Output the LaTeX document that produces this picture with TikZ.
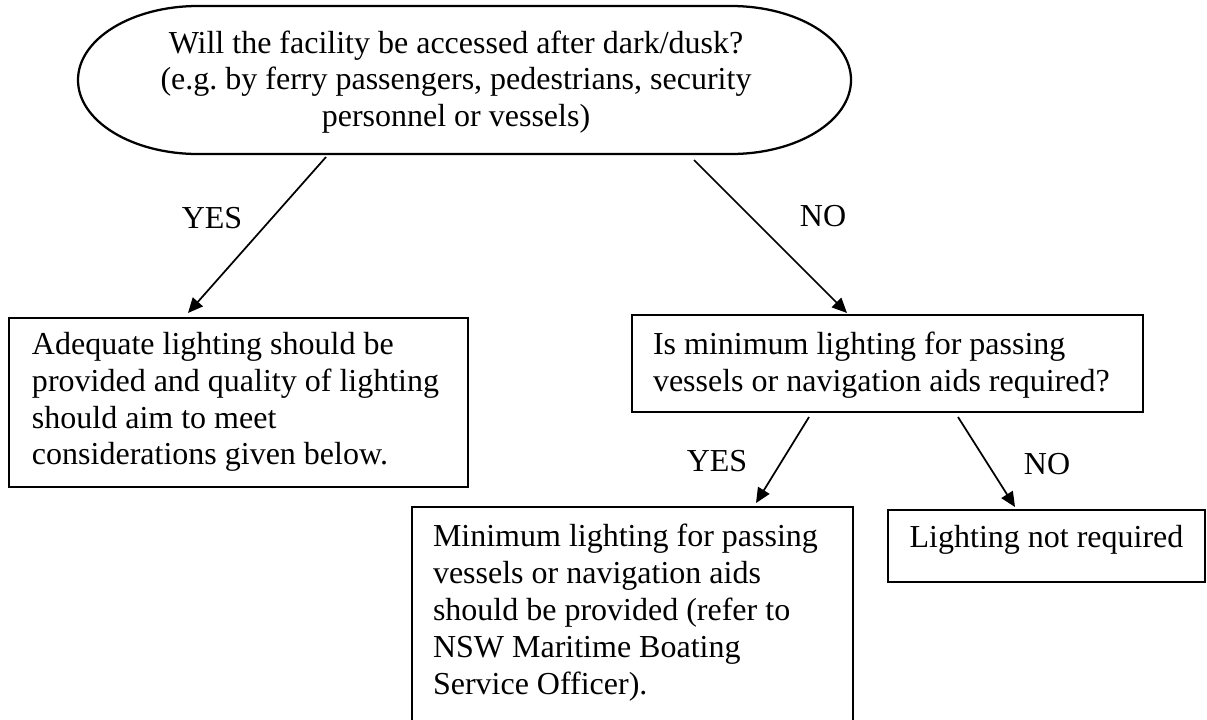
\documentclass[tikz,border=0pt]{standalone}
\usepackage{fontspec}
\setmainfont{Liberation Serif}
\usetikzlibrary{arrows.meta,calc}
\frenchspacing
% fixed-size text block: width, height, column spec, lines
\newcommand\boxtext[4]{\parbox[t][#2][t]{#1}{\begin{tabular}[t]{@{}#3@{}}#4\end{tabular}}}
\begin{document}
\begin{tikzpicture}[x=0.375pt, y=-0.375pt,
  every node/.style={font=\fontsize{12}{13.8}\selectfont, inner sep=0pt, outer sep=0pt},
  frame/.style={draw, line width=1pt, rectangle, anchor=north west},
  conn/.style={-{Triangle[length=5.6pt,width=5pt]}, line width=0.65pt},
  stadium/.style={line width=0.85pt, line join=round}]
\useasboundingbox (0,0) rectangle (1207,719);
\begin{scope}
\clip (0,0) rectangle (1207,719);

% start question: terminator outline and its text
\node[minimum width=289.875pt, minimum height=55.5pt] (q) at (464.5,80) {};
\draw[stadium] ($(q.north west)+(120,0)$) -- ($(q.north east)+(-120,0)$)
  .. controls ($(q.north east)+(-53.7,0)$) and ($(q.east)+(0,-40.9)$) .. (q.east)
  .. controls ($(q.east)+(0,40.9)$) and ($(q.south east)+(-53.7,0)$) .. ($(q.south east)+(-120,0)$)
  -- ($(q.south west)+(120,0)$)
  .. controls ($(q.south west)+(53.7,0)$) and ($(q.west)+(0,40.9)$) .. (q.west)
  .. controls ($(q.west)+(0,-40.9)$) and ($(q.north west)+(53.7,0)$) .. ($(q.north west)+(120,0)$)
  -- cycle;
\node[anchor=base] (qt) at (456,53) {\begin{tabular}[t]{@{}c@{}}Will the facility be accessed after dark/dusk?\\ (e.g. by ferry passengers, pedestrians, security\\ personnel or vessels)\end{tabular}};

% outcome and decision boxes
\node[frame, inner xsep=8.625pt, inner ysep=4pt] (ada) at (9,318)
  {\boxtext{154.9pt}{55.35pt}{l}{Adequate lighting should be\\ provided and quality of lighting\\ should aim to meet\\ considerations given below.}};
\node[frame, inner xsep=7.875pt, inner ysep=5.14pt] (q2) at (632,315)
  {\boxtext{175.875pt}{26.1pt}{l}{Is minimum lighting for passing\\ vessels or navigation aids required?}};
\node[frame, inner xsep=7.875pt, inner ysep=5.3pt] (minb) at (412,507)
  {\boxtext{149.625pt}{84.2pt}{l}{Minimum lighting for passing\\ vessels or navigation aids\\ should be provided (refer to\\ NSW Maritime Boating\\ Service Officer).}};
\node[frame, inner xsep=7.45pt, inner ysep=4.5pt] (nolt) at (888,510)
  {\parbox[t][18pt][t]{104pt}{\centering\begin{tabular}[t]{@{}c@{}}Lighting not required\end{tabular}}};

% branch labels
\node (ly1) at (212,218) {YES};
\node (ln1) at (823,216) {NO};
\node (ly2) at (717,461) {YES};
\node (ln2) at (1047,464) {NO};

% connectors
\draw[conn] ($(q.south west)+(248,3)$) -- ($(ada.north west)+(179,-5)$);
\draw[conn] ($(q.south west)+(616,6)$) -- ($(q2.north west)+(215,-2)$);
\draw[conn] ($(q2.south west)+(177,5)$) -- ($(minb.north west)+(344,-4)$);
\draw[conn] ($(q2.south west)+(326,5)$) -- ($(nolt.north west)+(127,-3)$);
\end{scope}
\end{tikzpicture}
\end{document}
